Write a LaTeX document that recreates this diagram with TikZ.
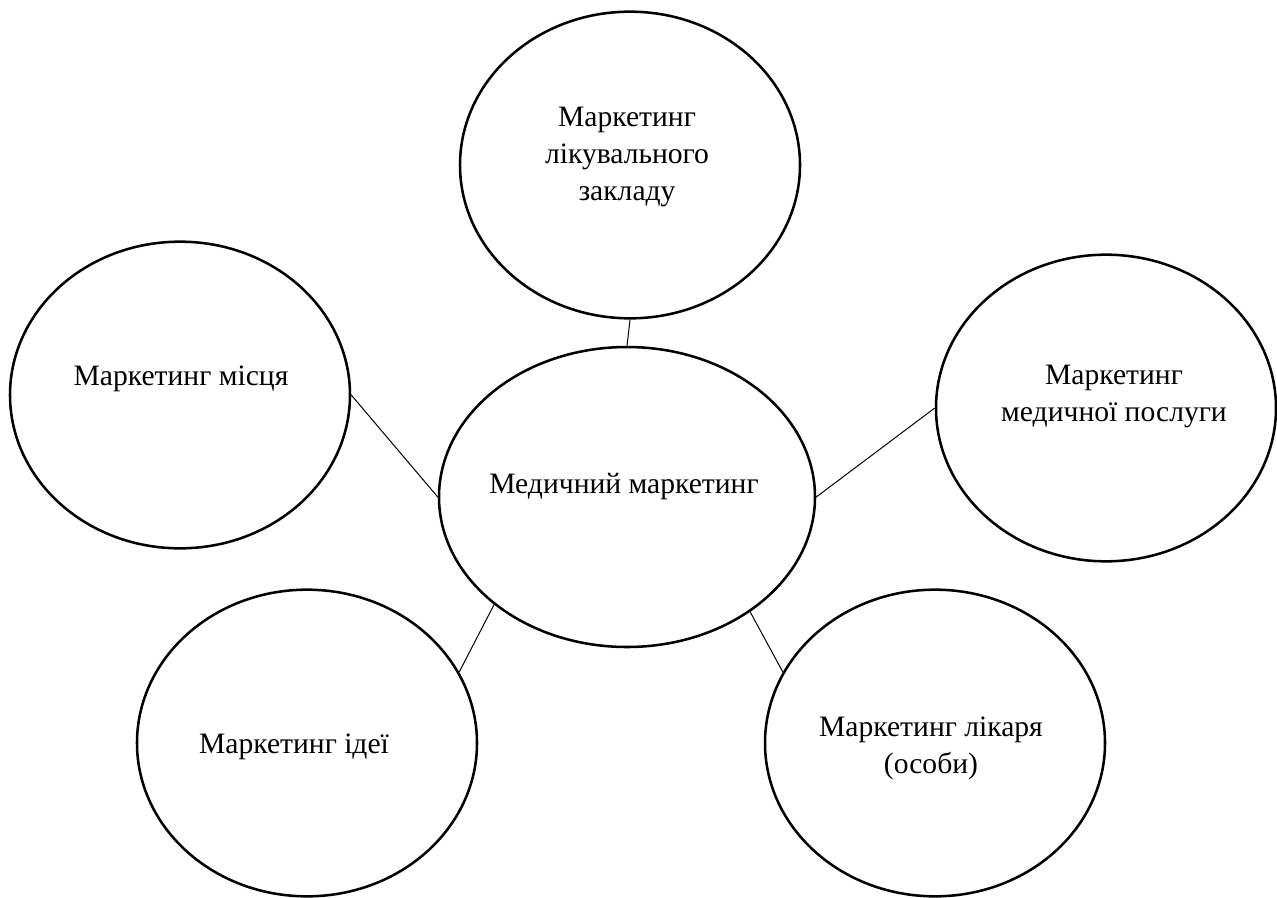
\documentclass[tikz,border=0pt]{standalone}
\usepackage{fontspec}
\setmainfont{Liberation Serif}
\usetikzlibrary{shapes.geometric}
\begin{document}
\begin{tikzpicture}[x=0.75pt,y=-0.75pt,
  sat/.style={draw,ellipse,line width=1.9pt,inner sep=0pt,
    minimum width=255pt,minimum height=230pt},
  hub/.style={draw,ellipse,line width=1.9pt,inner sep=0pt,
    minimum width=282pt,minimum height=225pt},
  lbl/.style={anchor=base,align=center,inner sep=0pt,
    font=\fontsize{22.2}{27.75}\selectfont},
  link/.style={line width=0.75pt}]
\useasboundingbox (0,0) rectangle (1277,897);

% ellipses
\node[hub] (mid)   at (627,497) {};
\node[sat] (top)   at (630,165) {};
\node[sat] (left)  at (180,395) {};
\node[sat] (right) at (1106,408) {};
\node[sat] (bl)    at (307,743) {};
\node[sat] (br)    at (935,743) {};

% labels (base anchor sits on the last line)
\node[lbl] (tmid)   at (624,493)  {Медичний маркетинг};
\node[lbl] (ttop)   at (627,200)  {Маркетинг\\лікувального\\закладу};
\node[lbl] (tleft)  at (181,385)  {Маркетинг місця};
\node[lbl] (tright) at (1114,421) {Маркетинг\\медичної послуги};
\node[lbl] (tbl)    at (294,753)  {Маркетинг ідеї};
\node[lbl] (tbr)    at (931,773)  {Маркетинг лікаря\\(особи)};

% connectors
\draw[link] (top.-90)  -- (mid.90);
\draw[link] (left.east) -- (mid.west);
\draw[link] (mid.east) -- (right.west);
\draw[link] (mid.219)  -- (bl.25);
\draw[link] (mid.-43)  -- (br.155);
\end{tikzpicture}
\end{document}
